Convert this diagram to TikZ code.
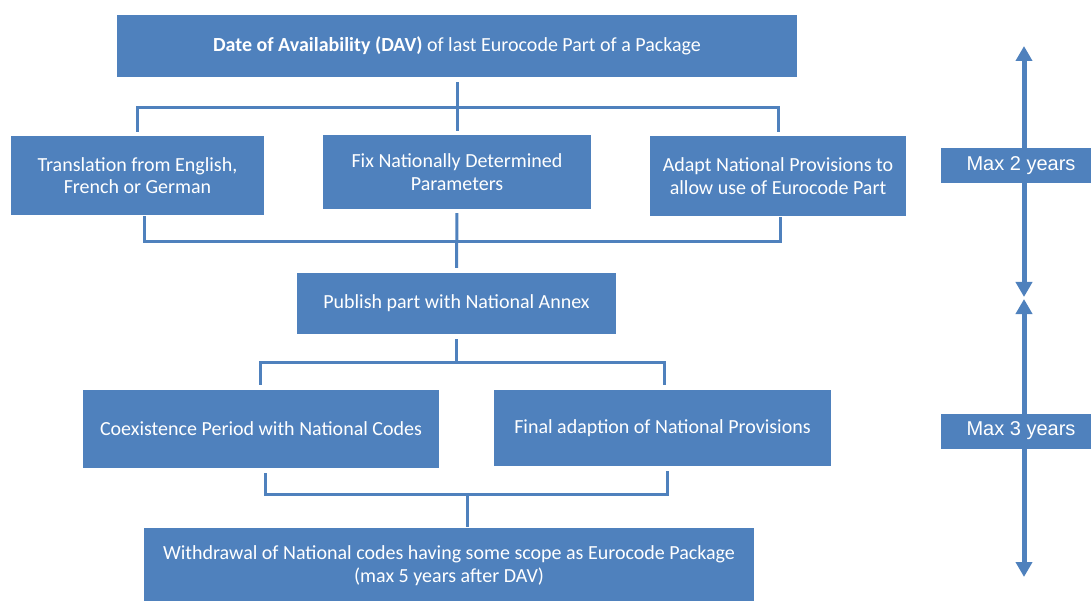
\documentclass[tikz,border=0pt]{standalone}
\usepackage{fontspec}
\setmainfont{Carlito}
\newfontfamily\arialfont{Liberation Sans}
\usetikzlibrary{arrows.meta}
\definecolor{eublue}{HTML}{4F81BD}
\tikzstyle{box}=[rectangle, fill=eublue, text=white, align=center, inner sep=0pt, font=\fontsize{20}{22.5}\selectfont]
\tikzstyle{yearbox}=[box, minimum width=150pt, minimum height=35pt, font=\arialfont\fontsize{20}{24}\selectfont]
\tikzstyle{conn}=[draw=eublue, line width=3pt]
\tikzstyle{timeline}=[draw=eublue, line width=5pt, {Triangle[width=16pt,length=15pt]}-{Triangle[width=16pt,length=15pt]}]
\providecommand{\stage}{\node[box]}

\begin{document}
\begin{tikzpicture}[x=1pt, y=-1pt]
\useasboundingbox (0,0) rectangle (1091,601);
\stage (dav) at (457,46) [minimum width=680pt, minimum height=62pt] {\textbf{Date of Availability (DAV)} of last Eurocode Part of a Package};
\stage (trans) at (137.5,175.5) [minimum width=253pt, minimum height=79pt] {Translation from English,\\French or German};
\stage (fix) at (457,172) [minimum width=268pt, minimum height=74pt] {Fix Nationally Determined\\Parameters};
\stage (adapt) at (778,176) [minimum width=256pt, minimum height=80pt] {Adapt National Provisions to\\allow use of Eurocode Part};
\stage (pub) at (456.5,303.5) [minimum width=319pt, minimum height=61pt] {Publish part with National Annex};
\stage (coex) at (261,429) [minimum width=356pt, minimum height=78pt] {Coexistence Period with National Codes};
\stage (final) at (662.5,428) [minimum width=337pt, minimum height=76pt] {Final adaption of National Provisions};
\stage (wd) at (449,565.5) [minimum width=610pt, minimum height=75pt] {Withdrawal of National codes having some scope as Eurocode Package\\(max 5 years after DAV)};
\coordinate (j1) at (457,108);
\coordinate (j2) at (457,242);
\coordinate (j3) at (456.5,362);
\coordinate (j4) at (467,494);
\coordinate (t0) at (1024,46);
\coordinate (t1) at (1024,297);
\coordinate (t2) at (1024,299);
\coordinate (t3) at (1024,577);
\path[conn]
(dav.south) edge [shorten <=5pt] (j1)
(j1) edge [shorten >=4pt] (fix.north)
(fix.south) edge [shorten <=4pt, shorten >=5pt] (pub.north)
(pub.south) edge [shorten <=5pt] (j3)
(j4) edge [shorten >=1pt] (j4 |- wd.north)
;
\draw[conn, shorten >=4pt] (j1) -| (trans.north);
\draw[conn, shorten >=4pt] (j1) -| (adapt.north);
\draw[conn, shorten <=1pt, shorten >=1pt] ([xshift=7pt]trans.south) |- (j2) -| ([xshift=2pt]adapt.south);
\draw[conn, shorten <=5pt, shorten >=5pt] ([xshift=-1pt]coex.north) |- (j3) -| ([xshift=2pt]final.north);
\draw[conn, shorten <=5pt, shorten >=5pt] ([xshift=4pt]coex.south) |- (j4) -| ([xshift=5pt]final.south);
\draw[timeline] (t0) -- (t1);
\draw[timeline] (t2) -- (t3);
\node[yearbox] (max2) at (1016,165.5) {\hspace{10pt}Max 2 years};
\node[yearbox] (max3) at (1016,431) {\hspace{10pt}Max 3 years};
\end{tikzpicture}
\end{document}
